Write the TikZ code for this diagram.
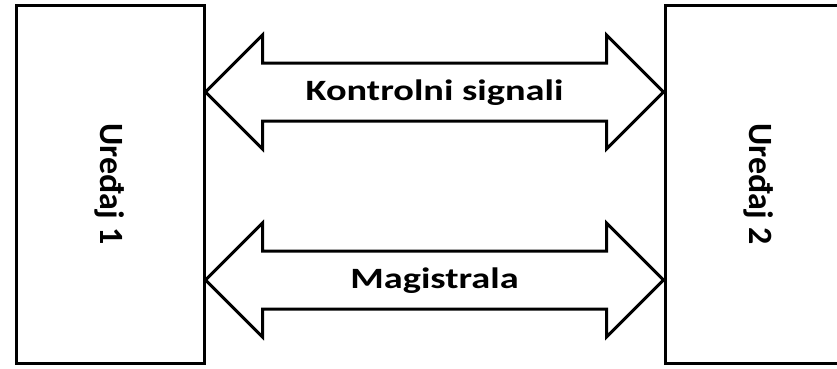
\documentclass[tikz,border=0pt]{standalone}
\usepackage{fontspec}
\setmainfont{Carlito}
\usetikzlibrary{calc}
\tikzset{%
	every device/.style={
		draw,
		line width=3pt,
		minimum width=188pt,
		minimum height=358pt,
		inner sep=0pt,
		font=\bfseries\fontsize{34}{40}\selectfont
	},
	bus arrow/.style={
		draw,
		fill=white,
		line width=3pt,
		line join=miter
	},
	bus label/.style={
		anchor=base,
		inner sep=0pt,
		xscale=1.3,
		font=\bfseries\fontsize{29.5}{34}\selectfont
	},
}

\begin{document}
\begin{tikzpicture}[x=1pt, y=-1pt]
		\clip (0,0) rectangle (837,368);
		
		\node [every device] (device-1) at (110,184) {\rotatebox{-90}{Uređaj 1}};
		\node [every device] (device-2) at (759,184) {\rotatebox{-90}{Uređaj 2}};
		
		% double-headed block arrows between the devices
		\foreach \l/\y [count=\i] in {Kontrolni signali/92, Magistrala/280}
		{
		\coordinate (bus-\i-a) at (device-1.east |- 0,\y);
		\coordinate (bus-\i-b) at (device-2.west |- 0,\y);
		\draw [bus arrow] (bus-\i-a) -- ++(57,-57) -- ++(0,28)
			-- ($(bus-\i-b)+(-57,-29)$) -- ++(0,-28) -- (bus-\i-b)
			-- ++(-57,57) -- ++(0,-28) -- ($(bus-\i-a)+(57,29)$)
			-- ++(0,28) -- cycle;
		\node [bus label] (bus-\i) at ($(bus-\i-a)!0.5!(bus-\i-b)+(0,8)$) {\l};
		}
		
\end{tikzpicture}
\end{document}
